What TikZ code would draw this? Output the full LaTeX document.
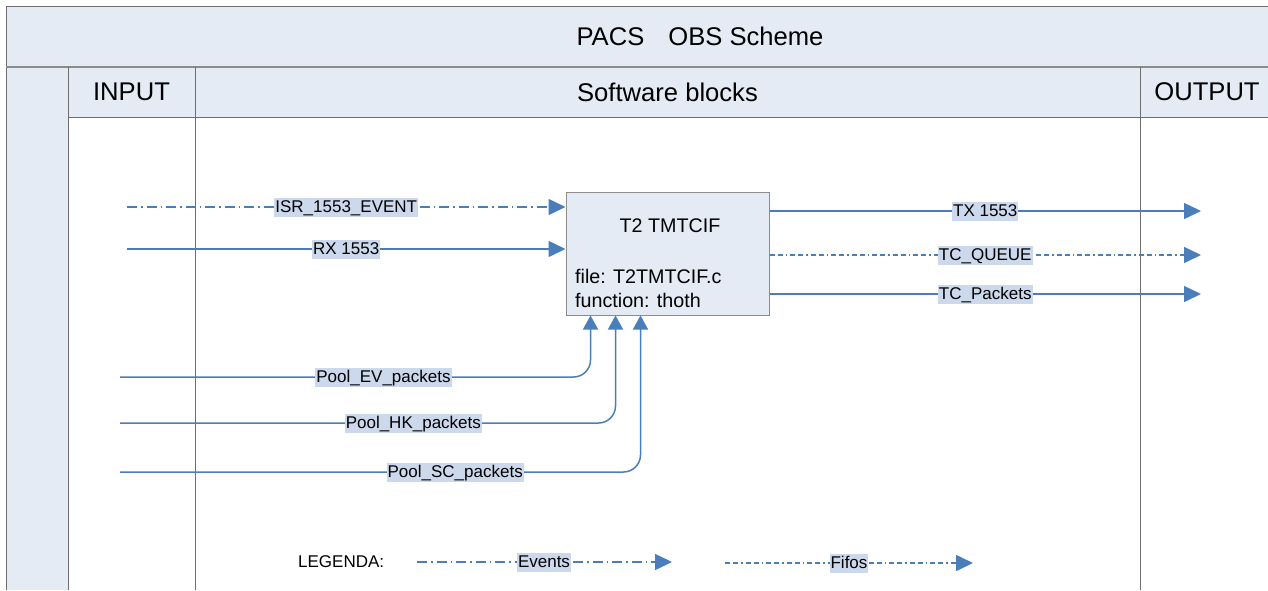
\documentclass[tikz,border=0pt]{standalone}
\usepackage{fontspec}
\setmainfont{Liberation Sans}
\usetikzlibrary{arrows.meta}

\definecolor{hdrfill}{HTML}{E4EBF5}
\definecolor{labfill}{HTML}{CCD9EC}
\definecolor{flowblue}{HTML}{4A7EBB}
\definecolor{gridgray}{HTML}{6E6E6E}
\definecolor{boxborder}{HTML}{8C8C8C}

\tikzset{
  gridline/.style={draw=gridgray, line width=1pt},
  hdrtext/.style={font=\fontsize{25.6pt}{28pt}\selectfont, inner sep=0pt},
  module/.style={draw=boxborder, fill=hdrfill, line width=1pt},
  boxtext/.style={font=\fontsize{19.7pt}{22pt}\selectfont, inner sep=0pt},
  flow/.style={draw=flowblue, line width=1.5pt,
    -{Triangle[length=17pt, width=16pt]}},
  upflow/.style={draw=flowblue, line width=1.5pt, rounded corners=17pt,
    -{Triangle[length=14pt, width=15pt]}},
  eventline/.style={dash pattern=on 10pt off 4pt on 1.5pt off 4pt},
  fifoline/.style={dash pattern=on 5pt off 3pt on 5pt off 3pt on 1.5pt off 3pt},
  lab/.style={fill=labfill, sharp corners, solid,
    font=\fontsize{17pt}{19pt}\selectfont,
    text height=13.5pt, text depth=3.5pt, inner xsep=1pt, inner ysep=1pt},
  legtext/.style={font=\fontsize{17pt}{19pt}\selectfont, inner sep=0pt}
}

\begin{document}
\begin{tikzpicture}[x=1pt, y=-1pt]
\useasboundingbox (0,0) rectangle (1268,590);
\fill[white] (0,0) rectangle (1268,590);

% swimlane frame
\fill[hdrfill] (6,6) rectangle (1268,67);
\fill[hdrfill] (6,67) rectangle (68,590);
\fill[hdrfill] (68,67) rectangle (1268,117);
\draw[gridline] (1268,6) -- (6,6) -- (6,590);
\draw[draw=gridgray!80, line width=2.2pt] (6,67) -- (1268,67);
\draw[gridline] (68,67) -- (68,590);
\draw[gridline] (195,67) -- (195,590);
\draw[gridline] (1140,67) -- (1140,590);
\draw[gridline] (68,117) -- (1268,117);

\node[hdrtext] (title) at (700,36) {PACS\hspace{24pt}OBS Scheme};
\node[hdrtext] (input) at (131.5,92) {INPUT};
\node[hdrtext] (sw) at (667.5,92) {Software blocks};
\node[hdrtext] (output) at (1207,92) {OUTPUT};

% main software block
\node[module, minimum width=203pt, minimum height=123pt, inner sep=0pt]
  (tmtcif) at (667.5,253.5) {};
\node[boxtext] (tname) at (670,226) {T2 TMTCIF};
\node[boxtext, anchor=west] (tfile) at (575,276) {file: T2TMTCIF.c};
\node[boxtext, anchor=west] (tfunc) at (575,300) {function: thoth};

% inputs
\coordinate (isr) at (127,207);
\coordinate (rx) at (127,249);
\draw[flow, eventline] (isr) -- node[lab] {ISR\_1553\_EVENT} (isr -| tmtcif.west);
\draw[flow] (rx) -- node[lab] {RX 1553} (rx -| tmtcif.west);

% outputs
\coordinate (tx) at (1201,211);
\coordinate (tcq) at (1201,255);
\coordinate (tcp) at (1201,294);
\draw[flow] (tx -| tmtcif.east) -- node[lab] {TX 1553} (tx);
\draw[flow, fifoline] (tcq -| tmtcif.east) -- node[lab] {TC\_QUEUE} (tcq);
\draw[flow] (tcp -| tmtcif.east) -- node[lab] {TC\_Packets} (tcp);

% packet pools
\coordinate (ev) at (120,377);
\coordinate (hk) at (120,423);
\coordinate (sc) at (120,472);
\coordinate (evin) at ([xshift=25pt]tmtcif.south west);
\coordinate (hkin) at ([xshift=50pt]tmtcif.south west);
\coordinate (scin) at ([xshift=75pt]tmtcif.south west);
\draw[upflow] (ev) -| node[lab, pos=0.28] {Pool\_EV\_packets} (evin);
\draw[upflow] (hk) -| node[lab, pos=0.296] {Pool\_HK\_packets} (hkin);
\draw[upflow] (sc) -| node[lab, pos=0.322] {Pool\_SC\_packets} (scin);

% legend
\node[legtext, anchor=west] (legend) at (298,562) {LEGENDA:};
\coordinate (evs) at (417,562);
\coordinate (eve) at (672,562);
\coordinate (ffs) at (725,563);
\coordinate (ffe) at (973,563);
\draw[flow, eventline] (evs) -- node[lab, pos=0.498] {Events} (eve);
\draw[flow, fifoline] (ffs) -- node[lab, pos=0.5] {Fifos} (ffe);
\end{tikzpicture}
\end{document}
